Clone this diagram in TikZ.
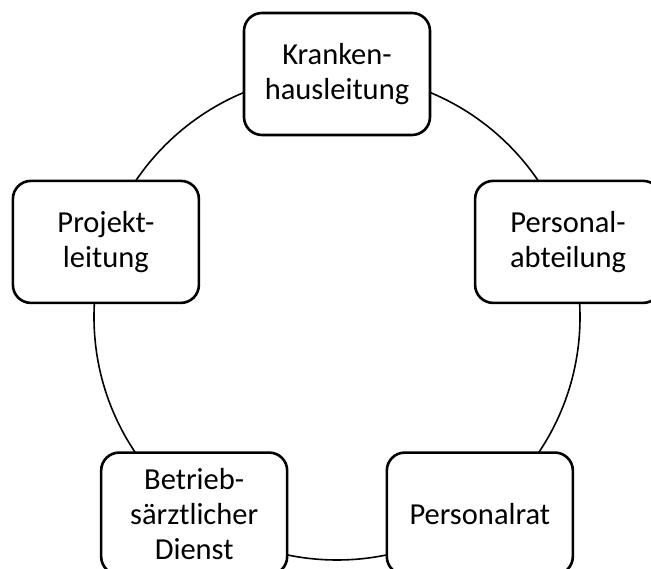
\documentclass[tikz,border=0pt]{standalone}
\usepackage{fontspec}
\setmainfont{Carlito}

\begin{document}
\begin{tikzpicture}[
    x=1pt, y=1pt,
    font=\fontsize{30.5}{35}\selectfont,
    ring/.style={line width=1.6pt},
    role_box/.style={rectangle, draw, fill=white, line width=2.6pt, rounded corners=18pt, align=center, minimum width=186pt, minimum height=122pt, inner sep=2pt}
]
    % page frame (reference is cut on the right and at the bottom)
    \clip (0,0) rectangle (651,569);
    \coordinate (ctr) at (337,252);

    % ring behind the boxes
    \draw[ring] (ctr) circle (243);

    % boxes on the ring
    \node[role_box] (leitung) at ([shift={(90:243)}]ctr) {Kranken-\\hausleitung};
    \node[role_box] (personal) at ([shift={(18:243)}]ctr) {Personal-\\abteilung};
    \node[role_box] (rat) at ([shift={(-54:243)}]ctr) {Personalrat};
    \node[role_box] (dienst) at ([shift={(234:243)}]ctr) {Betrieb-\\särztlicher\\Dienst};
    \node[role_box] (projekt) at ([shift={(162:243)}]ctr) {Projekt-\\leitung};
\end{tikzpicture}
\end{document}
